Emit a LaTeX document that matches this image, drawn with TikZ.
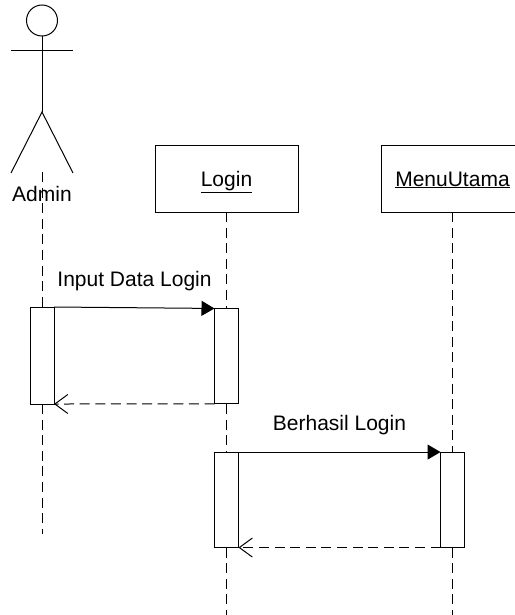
\documentclass[tikz,border=0pt]{standalone}
\usepackage{fontspec}
\setmainfont{Liberation Sans}
\usetikzlibrary{arrows.meta}
\tikzset{
  level/.style   = { line width=1pt, black },
  lifeline/.style = { line width=1pt, black, dash pattern=on 10pt off 5.6pt },
  object/.style  = { draw, level, rectangle, fill=white, text=black, inner sep=0pt, outer sep=0pt, minimum width=143pt, minimum height=67pt, text height=15pt, text depth=0pt },
  active/.style  = { draw, level, rectangle, fill=white, inner sep=0pt, outer sep=0pt, minimum width=24pt },
  msg/.style     = { anchor=base, inner sep=0pt, text=black },
  call/.style    = { level, -{Triangle[length=13pt,width=15pt]} },
  reply/.style   = { lifeline, -{Straight Barb[length=13pt,width=19pt]} }
}
\begin{document}
\begin{tikzpicture}[x=1pt,y=-1pt,font=\fontsize{21pt}{24pt}\selectfont]
  \useasboundingbox (0,0) rectangle (514,615);
  % Draw all objects
  \node[object] (login) at (226.5,178.5) {\underline{Login}};
  \node[object] (menuutama) at (452.5,178.5) {\underline{MenuUtama}};
  % Draw the actor
  \node[circle, draw, level, inner sep=0pt, outer sep=0pt, minimum size=31pt] (head) at (42,20.5) {};
  \coordinate (armleft) at (11,51);
  \coordinate (armright) at (73,51);
  \coordinate (hip) at (42,112);
  \coordinate (footleft) at (11,173);
  \coordinate (footright) at (73,173);
  \coordinate (admintop) at (42,172);
  \coordinate (adminend) at (42,534);
  \coordinate (loginend) at (226.5,615);
  \coordinate (menuend) at (452.5,615);
  \draw[level] (head.south) -- (hip);
  \draw[level] (armleft) -- (armright);
  \draw[level] (footleft) -- (hip) -- (footright);
  \node[msg] (admin) at (42,201.7) {Admin};
  % Draw activation bars
  \node[active, minimum height=97pt] (adminbar) at (42,355.5) {};
  \node[active, minimum height=95.5pt] (loginbarone) at (226.5,356.2) {};
  \node[active, minimum height=95.5pt] (loginbartwo) at (226.5,499.8) {};
  \node[active, minimum height=95.5pt] (menubar) at (452.5,499.8) {};
  % Draw lifelines
  \draw[lifeline] (admintop) -- (adminbar.north);
  \draw[lifeline] (adminbar.south) -- (adminend);
  \draw[lifeline] (login.south) -- (loginbarone.north);
  \draw[lifeline] (loginbarone.south) -- (loginbartwo.north);
  \draw[lifeline] (loginbartwo.south) -- (loginend);
  \draw[lifeline] (menuutama.south) -- (menubar.north);
  \draw[lifeline] (menubar.south) -- (menuend);
  % Draw messages
  \draw[call] (adminbar.north east) -- (loginbarone.north west);
  \draw[reply] (loginbarone.south west) -- (adminbar.south east);
  \draw[call] (loginbartwo.north east) -- (menubar.north west);
  \draw[reply] (menubar.south west) -- (loginbartwo.south east);
  % Draw labels
  \node[msg] (inputlabel) at (134.5,286) {Input Data Login};
  \node[msg] (berhasillabel) at (339.5,430) {Berhasil Login};
\end{tikzpicture}
\end{document}
